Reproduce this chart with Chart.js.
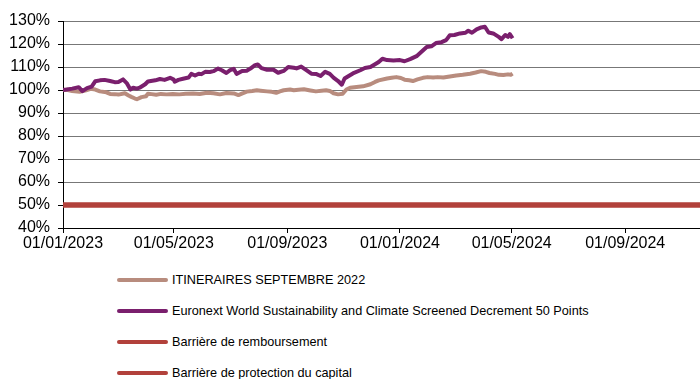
<!DOCTYPE html>
<html>
<head>
<meta charset="utf-8">
<script src="https://cdn.jsdelivr.net/npm/chart.js@4.4.1/dist/chart.umd.min.js"></script>
<style>
  html, body { margin: 0; padding: 0; background: #ffffff; }
  body { width: 700px; height: 379px; position: relative; overflow: hidden; font-family: "Liberation Sans", Arial, sans-serif; }
  #wrap { position: absolute; left: 0; top: 0; width: 700px; height: 256px; }
  #legend { position: absolute; left: 117px; top: 264px; }
  .item { display: flex; align-items: center; height: 31px; font-size: 12.7px; color: #000; white-space: nowrap; }
  .swatch { width: 51px; height: 4px; border-radius: 2px; margin-right: 4px; }
</style>
</head>
<body>
<div id="wrap"><canvas id="c"></canvas></div>
<div id="legend"></div>
<script>
// Days counted from 01/01/2023
const tickDays = [0, 120, 243, 365, 486, 609];
const tickLabels = ['01/01/2023', '01/05/2023', '01/09/2023', '01/01/2024', '01/05/2024', '01/09/2024'];
const axisEndDay = 690;

const seriesNames = [
  'ITINERAIRES SEPTEMBRE 2022',
  'Euronext World Sustainability and Climate Screened Decrement 50 Points',
  'Barrière de remboursement',
  'Barrière de protection du capital'
];

// ITINERAIRES SEPTEMBRE 2022 (base 100%)
const itinDays = [0,4,10,18,25,30,35,40,47,51,56,60,67,71,74,78,80,85,90,92,96,101,106,112,119,126,133,141,148,156,163,170,177,185,190,195,199,205,210,214,221,226,231,235,239,246,250,255,261,268,274,280,285,289,293,298,303,307,311,318,325,333,338,342,351,356,361,366,370,375,379,384,390,395,401,406,412,419,426,433,441,447,453,458,462,468,472,477,482,485,487];
const itinValues = [100,100.1,99.6,99.2,99.9,100.5,100.2,99.4,99,98.3,98.2,98,98.6,97.6,97,96.3,96,96.9,97.3,98.4,98.2,97.9,98.3,98.1,98.3,98.1,98.4,98.5,98.3,98.8,98.6,98.1,98.7,98.5,97.8,98.6,99.3,99.6,99.9,99.7,99.4,99.2,98.8,99.4,99.9,100.2,99.9,100.1,100.3,99.8,99.4,99.7,99.9,99.6,98.6,98.1,98.4,100.2,101,101.3,101.6,102.5,103.5,104.2,105,105.3,105.6,105.2,104.5,104.2,103.9,104.6,105.3,105.6,105.4,105.6,105.4,105.9,106.3,106.6,107.1,107.6,108.2,107.9,107.4,107,106.6,106.5,106.8,106.6,107.1];

// Euronext World Sustainability and Climate Screened Decrement 50 Points (base 100%)
const indexDays = [0,4,10,17,21,26,31,35,40,45,51,56,60,65,69,73,76,80,83,89,92,100,105,110,116,120,121,125,130,136,139,143,147,150,154,159,163,168,172,177,181,185,188,194,199,203,208,211,215,221,228,233,239,244,250,253,258,264,269,274,279,284,289,293,298,302,305,309,314,322,327,333,338,342,346,351,358,365,370,376,383,388,394,399,404,410,415,419,424,430,436,439,443,448,453,457,461,466,472,475,479,482,484,487];
const indexValues = [100,100.2,100.6,101.2,99.5,100.8,101.5,103.8,104.2,104.4,103.9,103.4,103.5,104.6,103,100.2,101,100.6,101,102.5,103.7,104.2,104.8,104.4,105.3,104.5,103.6,104.4,104.9,105.4,107,106.3,107.1,106.9,107.9,107.8,108.2,109.3,108.6,107.4,108.6,109.2,107,108.3,108.4,109.3,110.8,111.1,109.5,108.8,108.8,107.5,108.3,110,109.7,109.4,110.2,108.5,107.1,107,106.1,107.9,107,105.4,103.9,102.3,105,106,107.2,108.6,109.6,110,111.2,112.2,113.6,113,112.8,113,112.5,113.4,114.7,116.5,118.7,119,120.4,120.8,121.7,123.8,123.9,124.6,124.9,125.8,124.9,126.4,127.2,127.5,125,124.6,123.1,122.1,123.9,123.1,124.3,122.5];

// Barrier levels (%)
const barrierDays = [0, 690];
const remboursementLevels = [50, 50];
const protectionLevels = [50, 50];

const colors = ['#B88C7E', '#7A1F6D', '#B2413B', '#B2413B'];

const toPoints = (xs, ys) => xs.map((x, i) => ({ x: x, y: ys[i] }));

const datasets = [
  { label: seriesNames[0], data: toPoints(itinDays, itinValues), borderColor: colors[0], backgroundColor: colors[0], borderWidth: 4, order: 1 },
  { label: seriesNames[1], data: toPoints(indexDays, indexValues), borderColor: colors[1], backgroundColor: colors[1], borderWidth: 4, order: 0 },
  { label: seriesNames[2], data: toPoints(barrierDays, remboursementLevels), borderColor: colors[2], backgroundColor: colors[2], borderWidth: 5, order: 3 },
  { label: seriesNames[3], data: toPoints(barrierDays, protectionLevels), borderColor: colors[3], backgroundColor: colors[3], borderWidth: 5, order: 2 }
];
datasets.forEach(d => { d.pointRadius = 0; d.tension = 0; d.borderJoinStyle = 'round'; d.fill = false; });

const tickFont = { family: '"Liberation Sans", Arial, sans-serif', size: 16 };

const chart = new Chart(document.getElementById('c'), {
  type: 'line',
  data: { datasets: datasets },
  options: {
    responsive: true,
    maintainAspectRatio: false,
    animation: false,
    layout: { padding: { top: 21, right: 0, bottom: 0, left: 0 } },
    plugins: { legend: { display: false }, tooltip: { enabled: false } },
    scales: {
      x: {
        type: 'linear',
        min: 0,
        max: axisEndDay,
        afterBuildTicks: (scale) => { scale.ticks = tickDays.map(v => ({ value: v })); },
        afterFit: (scale) => { scale.height = 28; },
        ticks: {
          autoSkip: false,
          maxRotation: 0,
          padding: 1,
          color: '#000',
          font: tickFont,
          callback: (value, index) => tickLabels[index]
        },
        grid: { drawOnChartArea: false, drawTicks: true, tickLength: 5, tickColor: '#000' },
        border: { color: '#000', width: 1 }
      },
      y: {
        min: 40,
        max: 130,
        afterFit: (scale) => { scale.width = 63; },
        ticks: {
          stepSize: 10,
          padding: 8,
          color: '#000',
          font: tickFont,
          callback: (v) => v + '%'
        },
        grid: { color: '#777777', lineWidth: 1, drawTicks: true, tickLength: 5, tickColor: '#000' },
        border: { color: '#000', width: 1 }
      }
    }
  }
});

// Legend listing one series per row
const legendEl = document.getElementById('legend');
chart.data.datasets.forEach((ds) => {
  const row = document.createElement('div');
  row.className = 'item';
  const sw = document.createElement('span');
  sw.className = 'swatch';
  sw.style.background = ds.borderColor;
  const txt = document.createElement('span');
  txt.textContent = ds.label;
  row.appendChild(sw);
  row.appendChild(txt);
  legendEl.appendChild(row);
});
</script>
</body>
</html>
